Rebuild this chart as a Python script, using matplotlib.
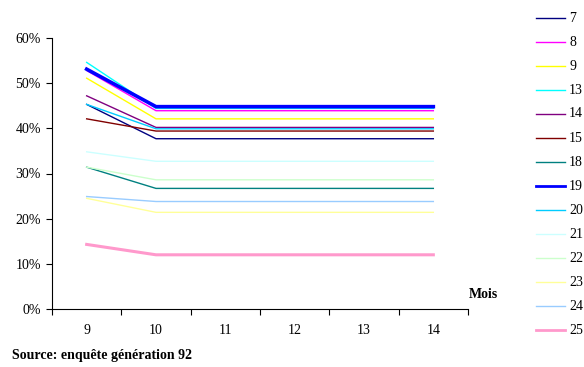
import matplotlib
matplotlib.use("Agg")
import matplotlib.pyplot as plt
from matplotlib.lines import Line2D
from matplotlib.ticker import FuncFormatter

plt.rcParams['font.family'] = ['Liberation Serif', 'DejaVu Serif']

mois = [9, 10, 11, 12, 13, 14]

# Share per series (%) for each month
series_names = ["7", "8", "9", "13", "14", "15", "18", "19", "20", "21", "22", "23", "24", "25"]
s7 = [45.3, 37.7, 37.7, 37.7, 37.7, 37.7]
s8 = [52.8, 43.9, 43.9, 43.9, 43.9, 43.9]
s9 = [51.1, 42.1, 42.1, 42.1, 42.1, 42.1]
s13 = [54.6, 44.4, 44.4, 44.4, 44.4, 44.4]
s14 = [47.2, 40.2, 40.2, 40.2, 40.2, 40.2]
s15 = [42.1, 39.4, 39.4, 39.4, 39.4, 39.4]
s18 = [31.4, 26.7, 26.7, 26.7, 26.7, 26.7]
s19 = [53.1, 44.8, 44.8, 44.8, 44.8, 44.8]
s20 = [45.3, 39.9, 39.9, 39.9, 39.9, 39.9]
s21 = [34.8, 32.7, 32.7, 32.7, 32.7, 32.7]
s22 = [31.4, 28.6, 28.6, 28.6, 28.6, 28.6]
s23 = [24.5, 21.4, 21.4, 21.4, 21.4, 21.4]
s24 = [24.9, 23.8, 23.8, 23.8, 23.8, 23.8]
s25 = [14.3, 12.0, 12.0, 12.0, 12.0, 12.0]

values = [s7, s8, s9, s13, s14, s15, s18, s19, s20, s21, s22, s23, s24, s25]
colors = ["#000080", "#FF00FF", "#FFFF00", "#00FFFF", "#800080", "#800000",
          "#008080", "#0000FF", "#00CCFF", "#CCFFFF", "#CCFFCC", "#FFFF99",
          "#99CCFF", "#FF99CC"]
widths = [1, 1, 1, 1, 1, 1, 1, 2.6, 1, 1, 1, 1, 1, 2.2]

W, H = 584, 367
fig = plt.figure(figsize=(W / 100, H / 100), dpi=100)
ax = fig.add_axes([52 / W, 1 - 309 / H, (468 - 52) / W, (309 - 38) / H])

x = list(range(len(mois)))
for name, vals, c, w in zip(series_names, values, colors, widths):
    ax.plot(x, [v / 100 for v in vals], color=c, lw=w, label=name)

ax.set_xlim(-0.5, len(mois) - 0.5)
ax.set_ylim(0, 0.6)
ax.set_yticks([0, 0.1, 0.2, 0.3, 0.4, 0.5, 0.6])
ax.yaxis.set_major_formatter(FuncFormatter(lambda v, p: f"{v * 100:.0f}%"))
ax.set_xticks(x)
ax.set_xticklabels([str(m) for m in mois])
ax.set_xticks([i - 0.5 for i in range(len(mois) + 1)], minor=True)
ax.tick_params(axis='x', which='major', length=0, pad=11, labelsize=10)
ax.tick_params(axis='x', which='minor', length=4, direction='out', width=0.8)
ax.tick_params(axis='y', length=4, direction='out', width=0.8, labelsize=10, pad=4)

for side in ("top", "right"):
    ax.spines[side].set_visible(False)
for side in ("left", "bottom"):
    ax.spines[side].set_linewidth(0.8)

fig.text(469 / W, 1 - 295 / H, "Mois", fontsize=10, fontweight='bold', va='center', ha='left')
fig.text(12 / W, 1 - 356 / H, "Source: enquête génération 92", fontsize=10,
         fontweight='bold', va='center', ha='left')

# Legend column on the right: one short line sample plus its label per series
for i, (name, c, w) in enumerate(zip(series_names, colors, widths)):
    yy = 1 - (18 + 24 * i) / H
    fig.add_artist(Line2D([536 / W, 565 / W], [yy, yy], color=c, lw=min(w, 2),
                          transform=fig.transFigure))
    fig.text(569 / W, yy, name, fontsize=10, va='center', ha='left')

fig.savefig("out.png", dpi=100)
